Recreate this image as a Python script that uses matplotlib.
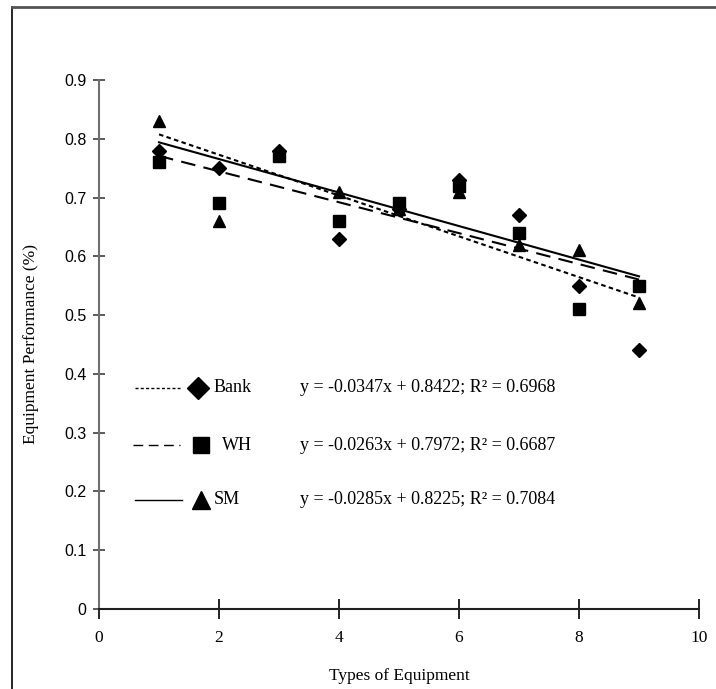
import matplotlib
matplotlib.use("Agg")
import matplotlib.pyplot as plt
from matplotlib.lines import Line2D
import numpy as np

# ---- data ----
x_types = [1, 2, 3, 4, 5, 6, 7, 8, 9]
bank = [0.78, 0.75, 0.78, 0.63, 0.68, 0.73, 0.67, 0.55, 0.44]
wh = [0.76, 0.69, 0.77, 0.66, 0.69, 0.72, 0.64, 0.51, 0.55]
sm = [0.83, 0.66, 0.78, 0.71, 0.68, 0.71, 0.62, 0.61, 0.52]
series_names = ["Bank", "WH", "SM"]
slopes = [-0.0347, -0.0263, -0.0285]
intercepts = [0.8422, 0.7972, 0.8225]
r2_values = [0.6968, 0.6687, 0.7084]
y_ticks = [0, 0.1, 0.2, 0.3, 0.4, 0.5, 0.6, 0.7, 0.8, 0.9]
x_ticks = [0, 2, 4, 6, 8, 10]

serif = ["Liberation Serif", "DejaVu Serif"]
sans = ["Liberation Sans", "DejaVu Sans"]

fig = plt.figure(figsize=(7.16, 6.89), dpi=100)
ax = fig.add_axes([99 / 716, 1 - 609 / 689, 600 / 716, 529 / 689])

markers = ["D", "s", "^"]
msizes = [7, 8, 8]
styles = [(0, (2.2, 1.6)), (0, (7, 4)), "-"]
data = [bank, wh, sm]

xs = np.array([min(x_types), max(x_types)], dtype=float)
for vals, m, ms, ls, a, b in zip(data, markers, msizes, styles, slopes, intercepts):
    ax.plot(x_types, vals, linestyle="none", marker=m, markersize=ms,
            color="black", zorder=3)
    ax.plot(xs, a * xs + b, linestyle=ls, color="black", linewidth=1.5, zorder=2)

ax.set_xlim(0, 10)
ax.set_ylim(0, 0.9)
ax.set_xticks(x_ticks)
ax.set_yticks(y_ticks)
ax.set_yticklabels(["0" if v == 0 else f"{v:.1f}" for v in y_ticks],
                   family=sans, fontsize=11.5)
ax.set_xticklabels([str(v) for v in x_ticks], family=serif, fontsize=12.5)
ax.tick_params(axis="x", direction="inout", length=14, width=1.2, pad=8)
ax.tick_params(axis="y", direction="inout", length=8, width=1.2, pad=5, colors="#404040")
ax.tick_params(axis="y", labelcolor="black")
for s in ["top", "right"]:
    ax.spines[s].set_visible(False)
ax.spines["left"].set_color("#707070")
ax.spines["left"].set_linewidth(1.5)
ax.spines["bottom"].set_color("#202020")
ax.spines["bottom"].set_linewidth(1.5)

ax.set_xlabel("Types of Equipment", family=serif, fontsize=12.5, labelpad=16)
ax.set_ylabel("Equipment Performance (%)", family=serif, fontsize=12.5, labelpad=18)

# ---- custom legend rows (axes coordinates) ----
def ax_x(px):
    return (px - 99) / 600

def ax_y(py):
    return (609 - py) / 529

rows_py = [388, 445, 500]
line_px = [(135, 180), (133, 180), (135, 182)]
marker_px = [198, 201, 201]
name_px = [214, 222, 214]
leg_ms = [11, 12, 13]
for i in range(3):
    yy = ax_y(rows_py[i])
    ax.add_line(Line2D([ax_x(line_px[i][0]), ax_x(line_px[i][1])], [yy, yy],
                       transform=ax.transAxes, color="black", linewidth=1.0,
                       linestyle=styles[i]))
    ax.add_line(Line2D([ax_x(marker_px[i])], [yy], transform=ax.transAxes,
                       color="black", marker=markers[i], markersize=leg_ms[i],
                       linestyle="none"))
    ax.text(ax_x(name_px[i]), yy, series_names[i], transform=ax.transAxes,
            family=serif, fontsize=13, va="center", ha="left")
    eq = f"y = {slopes[i]:.4f}x + {intercepts[i]:.4f}; R² = {r2_values[i]:.4f}"
    ax.text(ax_x(300), yy, eq, transform=ax.transAxes,
            family=serif, fontsize=13, va="center", ha="left")

# ---- frame border ----
fig.add_artist(Line2D([12 / 716, 12 / 716], [0, 1 - 7 / 689],
                      transform=fig.transFigure, color="black", linewidth=1.2))
fig.add_artist(Line2D([12 / 716, 1], [1 - 7 / 689, 1 - 7 / 689],
                      transform=fig.transFigure, color="#555555", linewidth=2.0))

fig.savefig("out.png", dpi=100)
